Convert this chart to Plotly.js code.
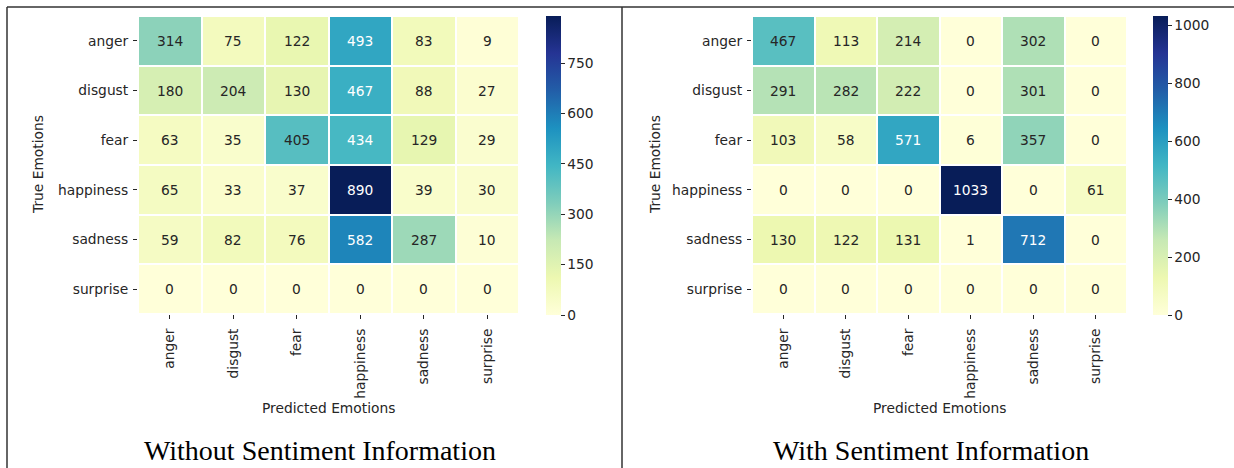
<!DOCTYPE html>
<html>
<head>
<meta charset="utf-8">
<script src="https://cdn.plot.ly/plotly-3.0.1.min.js"></script>
<style>html,body{margin:0;padding:0;background:#fff;}#chart{width:1234px;height:468px;}</style>
</head>
<body>
<div id="chart"></div>
<script>
// ---- data ----
const emotions = ["anger", "disgust", "fear", "happiness", "sadness", "surprise"];
const withoutSentiment = [
  [314, 75, 122, 493, 83, 9],
  [180, 204, 130, 467, 88, 27],
  [63, 35, 405, 434, 129, 29],
  [65, 33, 37, 890, 39, 30],
  [59, 82, 76, 582, 287, 10],
  [0, 0, 0, 0, 0, 0]
];
const withSentiment = [
  [467, 113, 214, 0, 302, 0],
  [291, 282, 222, 0, 301, 0],
  [103, 58, 571, 6, 357, 0],
  [0, 0, 0, 1033, 0, 61],
  [130, 122, 131, 1, 712, 0],
  [0, 0, 0, 0, 0, 0]
];
const leftTicks = [0, 150, 300, 450, 600, 750];
const rightTicks = [0, 200, 400, 600, 800, 1000];
const captions = ["Without Sentiment Information", "With Sentiment Information"];
const xTitle = "Predicted Emotions";
const yTitle = "True Emotions";

// ---- style ----
const W = 1234, H = 468;
const ylgnbu = ["#ffffd9","#edf8b1","#c7e9b4","#7fcdbb","#41b6c4","#1d91c0","#225ea8","#253494","#081d58"];
const colorscale = ylgnbu.map((c, i) => [i / (ylgnbu.length - 1), c]);
const FONT = "DejaVu Sans, sans-serif";
const FS = 13.8;
const TXT = "#262626";

function hex2rgb(h){return [parseInt(h.slice(1,3),16),parseInt(h.slice(3,5),16),parseInt(h.slice(5,7),16)];}
function colorAt(f){
  f = Math.max(0, Math.min(1, f));
  const n = ylgnbu.length - 1;
  const i = Math.min(n - 1, Math.floor(f * n));
  const t = f * n - i;
  const a = hex2rgb(ylgnbu[i]), b = hex2rgb(ylgnbu[i + 1]);
  return a.map((v, k) => v + (b[k] - v) * t);
}
function lum(rgb){
  const l = rgb.map(v => { v /= 255; return v <= 0.03928 ? v / 12.92 : Math.pow((v + 0.055) / 1.055, 2.4); });
  return 0.2126 * l[0] + 0.7152 * l[1] + 0.0722 * l[2];
}
const px = x => x / W;
const py = y => 1 - y / H;

const panels = [
  {z: withoutSentiment, ticks: leftTicks, x0: 138, x1: 519, cb: 546, xa: "x", ya: "y", cap: 320, ytitle: 38},
  {z: withSentiment, ticks: rightTicks, x0: 752, x1: 1127, cb: 1153, xa: "x2", ya: "y2", cap: 931, ytitle: 655}
];
const yTop = 16, yBot = 314;

const traces = [];
const annotations = [];
const layout = {
  width: W, height: H,
  margin: {l: 0, r: 0, t: 0, b: 0},
  paper_bgcolor: "#fff", plot_bgcolor: "#fff",
  font: {family: FONT, size: FS, color: TXT},
  showlegend: false,
  annotations: annotations,
  shapes: [
    {type: "line", xref: "paper", yref: "paper", x0: px(7), x1: 1, y0: py(7), y1: py(7), line: {color: "#333", width: 1.5}},
    {type: "line", xref: "paper", yref: "paper", x0: px(7), x1: px(7), y0: py(7), y1: 0, line: {color: "#333", width: 1.5}},
    {type: "line", xref: "paper", yref: "paper", x0: px(622), x1: px(622), y0: py(7), y1: 0, line: {color: "#333", width: 1.5}}
  ]
};

panels.forEach((p, idx) => {
  const zmax = Math.max(...p.z.flat());
  traces.push({
    type: "heatmap",
    z: p.z, x: emotions, y: emotions,
    xaxis: p.xa, yaxis: p.ya,
    colorscale: colorscale, zmin: 0, zmax: zmax,
    xgap: 2, ygap: 2,
    hoverinfo: "skip",
    colorbar: {
      x: px(p.cb), xanchor: "left", xref: "paper",
      y: py(yTop), yanchor: "top", yref: "paper",
      len: (yBot - yTop + 1) / H, lenmode: "fraction",
      thickness: 15, thicknessmode: "pixels",
      outlinewidth: 0, xpad: 0, ypad: 0,
      tickvals: p.ticks, ticks: "outside", ticklen: 4, tickwidth: 1, tickcolor: TXT,
      tickprefix: "\u00a0",
      tickfont: {family: FONT, size: FS, color: TXT}
    }
  });
  const sfx = idx === 0 ? "" : "2";
  layout["xaxis" + sfx] = {
    domain: [px(p.x0), px(p.x1)], anchor: "y" + sfx,
    type: "category", categoryarray: emotions, categoryorder: "array",
    tickangle: -90, ticks: "outside", ticklen: 4, tickwidth: 1, tickcolor: TXT,
    ticklabelstandoff: 4,
    showgrid: false, zeroline: false, showline: false,
    tickfont: {family: FONT, size: FS, color: TXT}, fixedrange: true
  };
  layout["yaxis" + sfx] = {
    domain: [py(yBot), py(yTop)], anchor: "x" + sfx,
    type: "category", categoryarray: emotions, categoryorder: "array", autorange: "reversed",
    ticks: "outside", ticklen: 4, tickwidth: 1, tickcolor: TXT,
    ticklabelstandoff: 2,
    showgrid: false, zeroline: false, showline: false,
    tickfont: {family: FONT, size: FS, color: TXT}, fixedrange: true
  };
  // cell labels
  p.z.forEach((row, i) => row.forEach((v, j) => {
    const c = colorAt(v / zmax);
    annotations.push({
      x: emotions[j], y: emotions[i], xref: p.xa, yref: p.ya,
      text: String(v), showarrow: false,
      font: {family: FONT, size: FS, color: lum(c) > 0.408 ? TXT : "#ffffff"}
    });
  }));
  // axis titles
  annotations.push({
    xref: "paper", yref: "paper", x: px((p.x0 + p.x1) / 2), y: py(408),
    text: xTitle, showarrow: false, xanchor: "center", yanchor: "middle",
    font: {family: FONT, size: FS, color: TXT}
  });
  annotations.push({
    xref: "paper", yref: "paper", x: px(p.ytitle), y: py(165),
    text: yTitle, showarrow: false, textangle: -90, xanchor: "center", yanchor: "middle",
    font: {family: FONT, size: FS, color: TXT}
  });
  // caption
  annotations.push({
    xref: "paper", yref: "paper", x: px(p.cap), y: py(450),
    text: captions[idx], showarrow: false, xanchor: "center", yanchor: "middle",
    font: {family: "Liberation Serif, Times New Roman, serif", size: 28, color: "#000"}
  });
});

Plotly.newPlot("chart", traces, layout, {displayModeBar: false, staticPlot: true});
</script>
</body>
</html>
